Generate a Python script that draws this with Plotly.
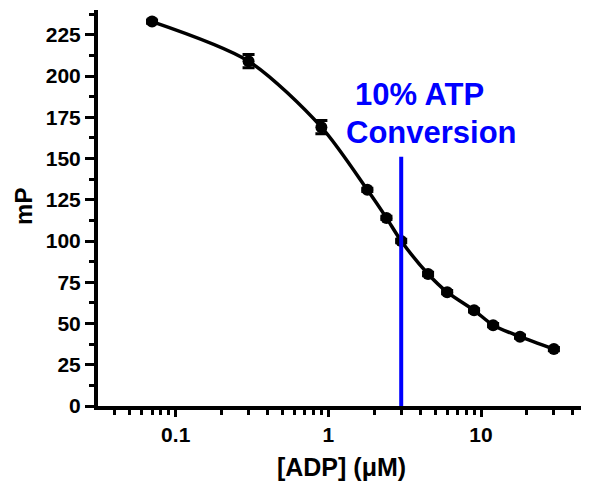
import plotly.graph_objects as go

adp_um = [0.07, 0.3, 0.9, 1.8, 2.4, 3.0, 4.5, 6.0, 9.0, 12.0, 18.0, 30.0]
mp_vals = [233, 209, 169, 131, 114, 100, 80, 69, 58, 49, 42, 34.5]
mp_err = [1, 4, 4, 1, 1, 1, 1, 1, 1, 1, 1, 1]

conv_x = [3.0, 3.0]
conv_y = [0, 151]

x_tickvals = [0.1, 1, 10]
x_ticktext = ["0.1", "1", "10"]
x_minor = [0.04, 0.05, 0.06, 0.07, 0.08, 0.09,
           0.2, 0.3, 0.4, 0.5, 0.6, 0.7, 0.8, 0.9,
           2, 3, 4, 5, 6, 7, 8, 9, 20, 30, 40]
y_tickvals = [0, 25, 50, 75, 100, 125, 150, 175, 200, 225]

FONT = "Liberation Sans, Arial, sans-serif"

fig = go.Figure()
fig.add_trace(go.Scatter(
    x=adp_um, y=mp_vals, mode="lines+markers",
    line=dict(color="black", width=3.5, shape="spline", smoothing=0.8),
    marker=dict(color="black", size=12),
    error_y=dict(type="data", array=mp_err, color="black", thickness=3, width=6),
    showlegend=False, hoverinfo="skip"))
fig.add_trace(go.Scatter(
    x=conv_x, y=conv_y, mode="lines",
    line=dict(color="#0000ff", width=4),
    showlegend=False, hoverinfo="skip"))

fig.add_annotation(
    x=0.595, y=189, xref="x", yref="y",
    text="<b>10% ATP</b>", showarrow=False,
    font=dict(family=FONT, size=31, color="#0000ff"))
fig.add_annotation(
    x=0.673, y=165.5, xref="x", yref="y",
    text="<b>Conversion</b>", showarrow=False,
    font=dict(family=FONT, size=31, color="#0000ff"))
fig.add_annotation(
    x=-0.153, y=0.504, xref="paper", yref="paper",
    text="<b>mP</b>", showarrow=False, textangle=-90,
    xanchor="center", yanchor="middle", borderpad=0,
    font=dict(family=FONT, size=24, color="black"))

fig.update_xaxes(
    type="log", range=[-1.509, 1.681], automargin=False,
    tickvals=x_tickvals, ticktext=["<b>%s</b>" % t for t in x_ticktext],
    ticks="outside", ticklen=7, tickwidth=3, tickcolor="black",
    minor=dict(tickvals=x_minor, ticks="outside", ticklen=5, tickwidth=3, tickcolor="black"),
    showline=True, linewidth=4, linecolor="black",
    showgrid=False, zeroline=False,
    tickfont=dict(family=FONT, size=21, color="black"),
    title=dict(text="<b>[ADP] (μM)</b>", font=dict(family=FONT, size=25, color="black"), standoff=14))
fig.update_yaxes(
    range=[0, 240], automargin=False,
    tickvals=y_tickvals, ticktext=["<b>%d</b>" % v for v in y_tickvals],
    ticks="outside", ticklen=9, tickwidth=3, tickcolor="black",
    minor=dict(dtick=12.5, tick0=0, ticks="outside", ticklen=5, tickwidth=3, tickcolor="black", showgrid=False),
    showline=True, linewidth=4, linecolor="black",
    showgrid=False, zeroline=False,
    tickfont=dict(family=FONT, size=21, color="black"))

fig.update_layout(
    width=581, height=483,
    margin=dict(l=90, r=4, t=2, b=85),
    plot_bgcolor="white", paper_bgcolor="white")

fig.write_html("out.html")
